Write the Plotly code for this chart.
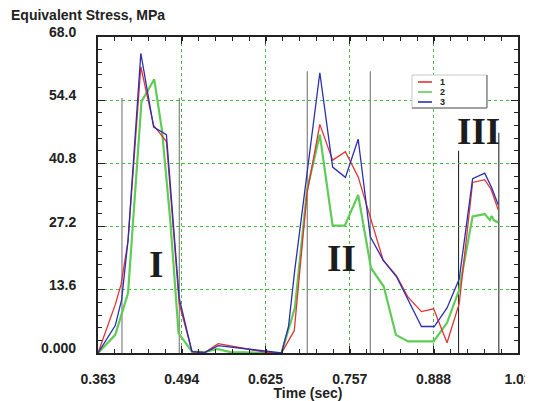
import plotly.graph_objects as go

# ---- data ----
time_1 = [0.363, 0.377, 0.390, 0.399, 0.410, 0.430, 0.450, 0.470, 0.490, 0.510, 0.530, 0.551, 0.585, 0.624, 0.650,
          0.670, 0.690, 0.710, 0.730, 0.750, 0.770, 0.789, 0.809, 0.830, 0.848, 0.869, 0.888, 0.909, 0.928, 0.949,
          0.968, 0.978, 0.989]
stress_1 = [0.0, 5.4, 10.4, 14.7, 24.1, 61.6, 49.0, 45.5, 10.7, 0.3, 0.1, 2.0, 1.1, 0.2, 0.0,
            4.8, 34.4, 49.2, 41.5, 43.3, 37.9, 29.3, 20.0, 16.6, 12.0, 8.9, 9.5, 2.2, 10.6, 36.7,
            37.3, 35.2, 30.8]

time_2 = [0.363, 0.390, 0.410, 0.431, 0.451, 0.463, 0.476, 0.489, 0.510, 0.530, 0.549, 0.570, 0.650, 0.671, 0.690,
          0.710, 0.730, 0.749, 0.770, 0.790, 0.810, 0.829, 0.848, 0.888, 0.909, 0.928, 0.949, 0.968, 0.976, 0.979,
          0.982, 0.989]
stress_2 = [0.0, 3.9, 12.9, 54.1, 58.9, 48.0, 28.6, 4.3, 0.3, 0.2, 0.9, 0.2, 0.0, 9.7, 35.1,
            47.0, 27.4, 27.4, 34.0, 18.3, 14.3, 3.9, 2.5, 2.5, 6.5, 13.6, 29.4, 29.9, 28.6, 29.5,
            28.6, 28.1]

time_3 = [0.363, 0.390, 0.400, 0.410, 0.430, 0.450, 0.470, 0.490, 0.510, 0.530, 0.551, 0.580, 0.624, 0.650, 0.661,
          0.671, 0.710, 0.730, 0.750, 0.770, 0.789, 0.809, 0.830, 0.848, 0.869, 0.889, 0.909, 0.928, 0.949, 0.968,
          0.979, 0.989]
stress_3 = [0.0, 5.9, 11.5, 24.3, 64.5, 48.6, 47.0, 11.8, 0.3, 0.1, 1.6, 1.1, 0.3, 0.0, 5.7,
            18.1, 60.3, 40.0, 37.8, 46.0, 25.0, 20.0, 16.4, 11.5, 5.7, 5.7, 9.7, 15.9, 37.5, 38.7,
            35.5, 31.9]

series_names = ["1", "2", "3"]
x_ticks = [0.363, 0.494, 0.625, 0.757, 0.888, 1.02]
x_tick_labels = ["0.363", "0.494", "0.625", "0.757", "0.888", "1.02"]
y_ticks = [0.0, 13.6, 27.2, 40.8, 54.4, 68.0]
y_tick_labels = ["0.000", "13.6", "27.2", "40.8", "54.4", "68.0"]

# region boundary markers (time, height) and stage labels
boundary_times = [0.4005, 0.4902, 0.6904, 0.789, 0.927, 0.990]
boundary_tops = [54.85, 54.85, 60.65, 60.65, 43.5, 47.4]
stage_labels = ["I", "II", "III"]
stage_x = [0.453, 0.744, 0.958]
stage_y = [19.1, 20.3, 47.6]

# ---- figure ----
fig = go.Figure()
colors = {"1": "#e03434", "2": "#5fcc55", "3": "#2b2fb0"}
widths = {"1": 1.3, "2": 2.2, "3": 1.3}
data = {"1": (time_1, stress_1), "2": (time_2, stress_2), "3": (time_3, stress_3)}
for name in ["2", "1", "3"]:
    t, s = data[name]
    fig.add_trace(go.Scatter(x=t, y=s, mode="lines", name=name, showlegend=False,
                             line=dict(color=colors[name], width=widths[name])))

for i, (t, top) in enumerate(zip(boundary_times, boundary_tops)):
    fig.add_shape(type="line", xref="x", yref="y", x0=t, x1=t, y0=0, y1=top, layer="below",
                  line=dict(color="#8c8c8c" if i < 4 else "#2a2a2a", width=1.3 if i < 4 else 1.1))

for lab, x, y in zip(stage_labels, stage_x, stage_y):
    fig.add_annotation(x=x, y=y, xref="x", yref="y", text=lab, showarrow=False,
                       font=dict(family="Liberation Serif", size=37, color="#1c1c1c", weight="bold"))

fig.add_annotation(text="Equivalent Stress, MPa", xref="paper", yref="paper", x=-0.212, y=1.07,
                   xanchor="left", yanchor="middle", showarrow=False,
                   font=dict(family="Liberation Sans", size=14, color="#222", weight="bold"))

# y tick labels, set well left of the axis as in the reference
for val, lab in zip(y_ticks, y_tick_labels):
    fig.add_annotation(text=lab, xref="paper", yref="y", x=-0.048, y=val, xanchor="right",
                       yanchor="middle", yshift=5, showarrow=False,
                       font=dict(family="Liberation Sans", size=14, color="#222", weight="bold"))

# compact legend box (paper coordinates)
leg_x0, leg_x1, leg_y0, leg_y1 = 0.7476, 0.926, 0.775, 0.8797
fig.add_shape(type="rect", xref="paper", yref="paper", x0=leg_x0, x1=leg_x1, y0=leg_y0, y1=leg_y1,
              fillcolor="white", line=dict(color="#c8c8c8", width=1))
fig.add_shape(type="line", xref="paper", yref="paper", x0=leg_x1, x1=leg_x1, y0=leg_y0, y1=leg_y1,
              line=dict(color="#8a8a8a", width=1.5))
fig.add_shape(type="line", xref="paper", yref="paper", x0=leg_x0, x1=leg_x1, y0=leg_y0, y1=leg_y0,
              line=dict(color="#8a8a8a", width=1.5))
row_y = [0.8576, 0.8259, 0.7943]
for name, ry in zip(series_names, row_y):
    fig.add_shape(type="line", xref="paper", yref="paper", x0=0.7619, x1=0.7952, y0=ry, y1=ry,
                  line=dict(color=colors[name], width=1.6))
    fig.add_annotation(text=name, xref="paper", yref="paper", x=0.8095, y=ry, xanchor="left",
                       yanchor="middle", showarrow=False,
                       font=dict(family="Liberation Sans", size=9, color="#222", weight="bold"))

grid_color = "#45bd45"
fig.update_xaxes(range=[0.363, 1.02], tickvals=x_ticks, ticktext=x_tick_labels, automargin=False,
                 showline=True, linecolor="#222", linewidth=1.5, mirror="allticks",
                 ticks="inside", ticklen=7, tickcolor="#222", tickwidth=1.2,
                 ticklabelstandoff=12,
                 minor=dict(ticks="inside", ticklen=4, dtick=0.02628, tick0=0.363, tickcolor="#222", showgrid=False),
                 showgrid=True, gridcolor=grid_color, griddash="dot", gridwidth=1.4,
                 zeroline=False,
                 tickfont=dict(family="Liberation Sans", size=14, color="#222", weight="bold"),
                 title=dict(text="Time (sec)", standoff=0,
                            font=dict(family="Liberation Sans", size=14, color="#222", weight="bold")))
fig.update_yaxes(range=[0, 68], tickvals=y_ticks, showticklabels=False, automargin=False,
                 showline=True, linecolor="#222", linewidth=1.5, mirror="allticks",
                 ticks="inside", ticklen=7, tickcolor="#222", tickwidth=1.2,
                 minor=dict(ticks="inside", ticklen=4, dtick=2.72, tick0=0, tickcolor="#222", showgrid=False),
                 showgrid=True, gridcolor=grid_color, griddash="dot", gridwidth=1,
                 zeroline=False)

# page body has an 8px margin, so the figure is sized to end exactly at the window edge
fig.update_layout(width=525, height=393, margin=dict(l=90, r=15, t=29, b=48),
                  paper_bgcolor="white", plot_bgcolor="white", showlegend=False)

fig.write_html("out.html")
